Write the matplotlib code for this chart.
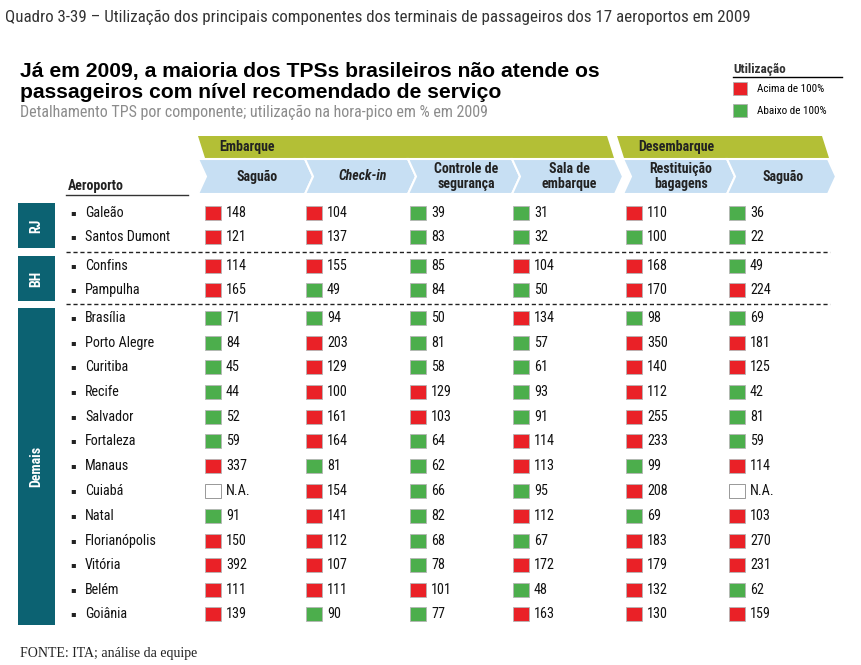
import matplotlib
matplotlib.use("Agg")
import matplotlib.pyplot as plt
from matplotlib.patches import Polygon, Rectangle
from matplotlib import font_manager

# pick a condensed sans with static regular + bold files
def pick_narrow():
    cands = ["Roboto Condensed", "PT Sans Narrow", "Fira Sans Condensed",
             "IBM Plex Sans Condensed", "Barlow Semi Condensed", "Asap Condensed"]
    for name in cands:
        fl = [f for f in font_manager.fontManager.ttflist if f.name == name and "[" not in f.fname]
        w = set(f.weight for f in fl if f.style == "normal")
        if 400 in w and 700 in w:
            return name
    return "Liberation Sans"

NARROW = pick_narrow()
SANS = "Liberation Sans"
SERIF = "Liberation Serif"

# data
airports = ["Galeão", "Santos Dumont", "Confins", "Pampulha", "Brasília", "Porto Alegre",
            "Curitiba", "Recife", "Salvador", "Fortaleza", "Manaus", "Cuiabá", "Natal",
            "Florianópolis", "Vitória", "Belém", "Goiânia"]
groups = ["RJ", "BH", "Demais"]
group_sizes = [2, 2, 13]
columns = ["Saguão", "Check-in", "Controle de\nsegurança", "Sala de\nembarque",
           "Restituição\nbagagens", "Saguão"]

saguao_emb = [148, 121, 114, 165, 71, 84, 45, 44, 52, 59, 337, None, 91, 150, 392, 111, 139]
checkin = [104, 137, 155, 49, 94, 203, 129, 100, 161, 164, 81, 154, 141, 112, 107, 111, 90]
controle = [39, 83, 85, 84, 50, 81, 58, 129, 103, 64, 62, 66, 82, 68, 78, 101, 77]
sala = [31, 32, 104, 50, 134, 57, 61, 93, 91, 114, 113, 95, 112, 67, 172, 48, 163]
restituicao = [110, 100, 168, 170, 98, 350, 140, 112, 255, 233, 99, 208, 69, 183, 179, 132, 130]
saguao_des = [36, 22, 49, 224, 69, 181, 125, 42, 81, 59, 114, None, 103, 270, 231, 62, 159]
values = [saguao_emb, checkin, controle, sala, restituicao, saguao_des]

# status as printed (R = acima, G = abaixo, N = sem dado)
status = [
    "RRRRGGGGGGRNGRRRR",
    "RRRGGRRRRRGRRRRRG",
    "GGGGGGGRRGGGGGGRG",
    "GGRGRGGGGRRGRGRGR",
    "RGRRGRRRRRGRGRRRR",
    "GGGRGRRGGGRNRRRGR",
]

RED = "#ea2127"
GREEN = "#4cae4c"
TEAL = "#0c6272"
OLIVE = "#b3bf36"
BLUE = "#c7dff3"
GRAY = "#8c8c8c"

fig = plt.figure(figsize=(8.61, 6.65), dpi=100)
ax = fig.add_axes([0, 0, 1, 1])
ax.set_xlim(0, 861)
ax.set_ylim(665, 0)
ax.axis("off")

# titles
ax.text(5, 17, "Quadro 3-39 – Utilização dos principais componentes dos terminais de passageiros dos 17 aeroportos em 2009",
        family=NARROW, fontsize=12.2, color="#333333", va="center")
ax.text(20, 71, "Já em 2009, a maioria dos TPSs brasileiros não atende os",
        family=SANS, weight="bold", fontsize=15.2, va="center")
ax.text(20, 93, "passageiros com nível recomendado de serviço",
        family=SANS, weight="bold", fontsize=15.2, va="center")
ax.text(20, 112, "Detalhamento TPS por componente; utilização na hora-pico em % em 2009",
        family=NARROW, fontsize=11.5, color=GRAY, va="center")

# legend
ax.text(733, 69, "Utilização", family=NARROW, weight="bold", fontsize=9.5, color="#333333", va="center")
ax.plot([733, 842], [77, 77], color="black", lw=1)
ax.add_patch(Rectangle((733, 82), 14, 13, facecolor=RED, edgecolor="#b0b0b0", lw=0.6))
ax.text(757, 89, "Acima de 100%", family=NARROW, fontsize=8, va="center")
ax.add_patch(Rectangle((733, 104), 14, 13, facecolor=GREEN, edgecolor="#b0b0b0", lw=0.6))
ax.text(757, 111, "Abaixo de 100%", family=NARROW, fontsize=8, va="center")

# olive bands
for (xl, xr, label) in [(198, 607, "Embarque"), (617, 822, "Desembarque")]:
    ax.add_patch(Polygon([(xl, 136), (xr, 136), (xr + 7, 158), (xl + 7, 158)],
                         closed=True, facecolor=OLIVE, edgecolor="none"))
    ax.text(xl + 21, 147.5, label, family=NARROW, weight="bold", fontsize=10,
            color="#222222", va="center")

# chevrons
bounds = [(198, 305), (305, 408), (408, 512), (512, 615), (623, 727), (727, 828)]
d = 8
y0, y1 = 159, 194
ym = (y0 + y1) / 2
for i, (xa, xb) in enumerate(bounds):
    ax.add_patch(Polygon([(xa, y0), (xb, y0), (xb + d, ym), (xb, y1), (xa, y1), (xa + d, ym)],
                         closed=True, facecolor=BLUE, edgecolor="white", lw=1.5))
    cx = (xa + xb) / 2 + d - 2
    style = "italic" if columns[i] == "Check-in" else "normal"
    ax.text(cx, ym, columns[i], family=NARROW, weight="bold", style=style, fontsize=10,
            color="#222222", ha="center", va="center", linespacing=1.05)

ax.text(68, 186, "Aeroporto", family=NARROW, weight="bold", fontsize=10, color="#222222", va="center")
ax.plot([66, 188], [195, 195], color="#333333", lw=1)

# rows
row_y = [213, 237, 266, 290, 318, 343, 367, 392, 417, 441, 466, 491, 516, 541, 565, 590, 614]
sq_x = [205, 306, 410, 513, 626, 729]

for r, name in enumerate(airports):
    y = row_y[r]
    ax.text(70, y, "▪", family="DejaVu Sans", fontsize=6, va="center", color="#222222")
    ax.text(85, y, name, family=NARROW, fontsize=10.2, va="center", color="#111111")
    for c in range(6):
        s = status[c][r]
        v = values[c][r]
        fc = {"R": RED, "G": GREEN, "N": "white"}[s]
        ec = "#888888" if s == "N" else "#b5b5b5"
        ax.add_patch(Rectangle((sq_x[c], y - 7), 16, 14, facecolor=fc, edgecolor=ec, lw=0.6))
        ax.text(sq_x[c] + 21, y, "N.A." if v is None else str(v), family=NARROW,
                fontsize=10.2, va="center", color="#111111")

# group boxes and separators
start = 0
for g, n in zip(groups, group_sizes):
    top = row_y[start] - 10
    bot = row_y[start + n - 1] + 11
    ax.add_patch(Rectangle((18, top), 37, bot - top, facecolor=TEAL, edgecolor="none"))
    ax.text(36.5, (top + bot) / 2, g, family=NARROW, weight="bold", fontsize=10,
            color="white", rotation=90, ha="center", va="center")
    if start + n < len(airports):
        ysep = (row_y[start + n - 1] + row_y[start + n]) / 2
        ax.plot([66, 830], [ysep, ysep], color="#222222", lw=1, ls=(0, (3, 2)))
    start += n

ax.text(20, 653, "FONTE: ITA; análise da equipe", family=SERIF, fontsize=10, va="center", color="#222222")

fig.savefig("out.png", dpi=100)
